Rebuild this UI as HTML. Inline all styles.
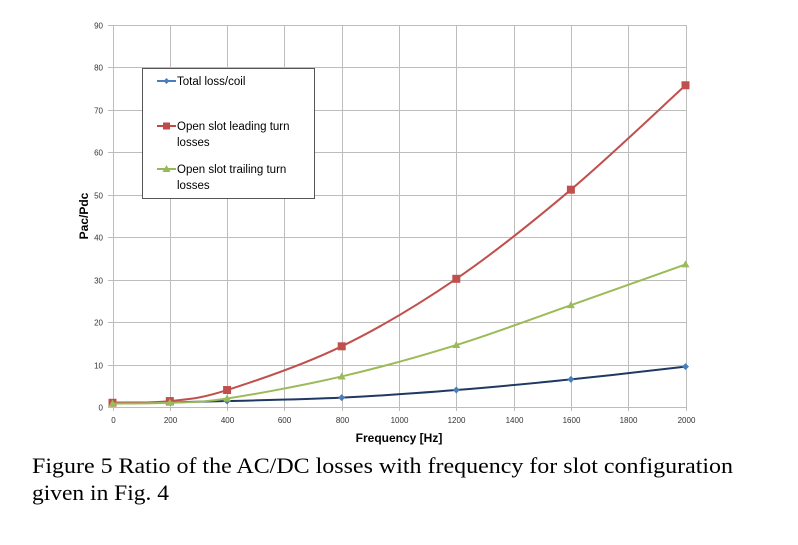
<!DOCTYPE html><html><head><style>body{margin:0;background:#fff}svg{display:block}</style></head><body>
<svg id="s" width="798" height="545" xmlns="http://www.w3.org/2000/svg" font-family="Liberation Sans, sans-serif">
<g id="grid" stroke="#bdbdbd" stroke-width="1"></g>
<g id="ticks" font-size="8" fill="#333"></g>
<g id="series"></g>
<rect x="142.5" y="68.5" width="172" height="130" fill="#fff" stroke="#555"/>
<line x1="157" y1="81" x2="176" y2="81" stroke="#4a7ebb" stroke-width="2"/><path d="M166.5 78l3 3-3 3-3-3z" fill="#4a7ebb"/>
<text x="177" y="85" font-size="11.5" fill="#000">Total loss/coil</text>
<line x1="157" y1="126" x2="176" y2="126" stroke="#be4b48" stroke-width="2"/><rect x="163" y="122.5" width="7" height="7" fill="#be4b48"/>
<text x="177" y="130" font-size="11.5">Open slot leading turn</text><text x="177" y="146" font-size="11.5">losses</text>
<line x1="157" y1="169" x2="176" y2="169" stroke="#98b954" stroke-width="2"/><path d="M166.5 165l4 7h-8z" fill="#98b954"/>
<text x="177" y="173" font-size="11.5">Open slot trailing turn</text><text x="177" y="189" font-size="11.5">losses</text>
<text x="399" y="442" font-size="12" font-weight="bold" text-anchor="middle">Frequency [Hz]</text>
<text transform="translate(88,216) rotate(-90)" font-size="12" font-weight="bold" text-anchor="middle">Pac/Pdc</text>
<text x="32" y="473" font-family="Liberation Serif, serif" font-size="22" textLength="701" lengthAdjust="spacingAndGlyphs">Figure 5 Ratio of the AC/DC losses with frequency for slot configuration</text>
<text x="32" y="500" font-family="Liberation Serif, serif" font-size="22" textLength="137" lengthAdjust="spacingAndGlyphs">given in Fig. 4</text>
</svg>
<script>
var X0=112.5,XS=573/2000,Y0=407,YS=382/90,NS="http://www.w3.org/2000/svg";
function el(p,t,a,txt){var e=document.createElementNS(NS,t);for(var k in a)e.setAttribute(k,a[k]);if(txt!=null)e.textContent=txt;p.appendChild(e);return e;}
var g=document.getElementById('grid'),tk=document.getElementById('ticks');
for(var i=0;i<=10;i++){var x=Math.round(X0+i*200*XS)+.5;el(g,'line',{x1:x,x2:x,y1:25,y2:411});el(tk,'text',{x:x,y:423,'text-anchor':'middle'},i*200);}
for(var j=0;j<=9;j++){var y=Math.round(Y0-j*10*YS)+.5;el(g,'line',{x1:108,x2:686,y1:y,y2:y});el(tk,'text',{x:103,y:y+3,'text-anchor':'end'},j*10);}
var xs=[0,200,400,800,1200,1600,2000];
var data=[[[1,1.1,1.4,2.2,4,6.5,9.5],'#1f3864','d'],[[1,1.4,4,14.3,30.2,51.2,75.8],'#c0504d','s'],[[0.8,1.0,2,7.2,14.6,24,33.6],'#9bbb59','t']];
var S=document.getElementById('series');
data.forEach(function(d){var p=xs.map(function(x,i){return[X0+x*XS,Y0-d[0][i]*YS]});
var s='M'+p[0];for(var i=0;i<p.length-1;i++){var a=p[i-1]||p[i],b=p[i],c=p[i+1],e=p[i+2]||c;
s+='C'+(b[0]+(c[0]-a[0])/6)+','+(b[1]+(c[1]-a[1])/6)+' '+(c[0]-(e[0]-b[0])/6)+','+(c[1]-(e[1]-b[1])/6)+' '+c;}
el(S,'path',{d:s,fill:'none',stroke:d[1],'stroke-width':2});
var mc=d[2]=='d'?'#4a7ebb':d[1];
p.forEach(function(q){if(d[2]=='d')el(S,'path',{d:'M'+q[0]+' '+(q[1]-3.5)+'l3.5 3.5-3.5 3.5-3.5-3.5z',fill:mc});
else if(d[2]=='s')el(S,'rect',{x:q[0]-4,y:q[1]-4,width:8,height:8,fill:mc});
else el(S,'path',{d:'M'+q[0]+' '+(q[1]-4)+'l4 7h-8z',fill:mc});});});
</script>
</body></html>
